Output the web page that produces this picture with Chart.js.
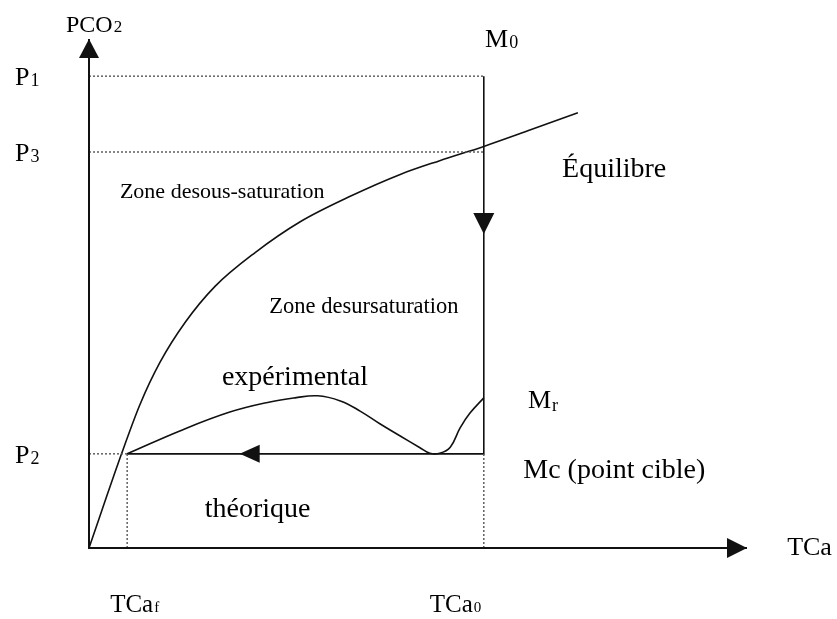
<!DOCTYPE html>
<html>
<head>
<meta charset="utf-8">
<script src="https://cdn.jsdelivr.net/npm/chart.js@4"></script>
<style>
  body { margin: 0; background: #fff; }
  #wrap { width: 837px; height: 619px; }
</style>
</head>
<body>
<div id="wrap"><canvas id="chart" width="837" height="619"></canvas></div>
<script>
// PCO2 levels on the vertical axis
const pNames = ['P', 'P', 'P'];
const pSubs = ['1', '3', '2'];
const pValues = [92.7, 77.8, 18.5];

// TCa values on the horizontal axis
const tcaNames = ['TCa', 'TCa'];
const tcaSubs = ['f', '0'];
const tcaValues = [5.8, 60];

// equilibrium curve
const eqX = [0, 5.0, 7.75, 10.8, 14.6, 19.15, 25.2, 32.1, 39.7, 47.3, 53.3, 60.0, 67.0, 74.3];
const eqY = [0, 18.7, 28.2, 36.5, 44.3, 51.4, 58.0, 64.1, 69.1, 73.4, 76.1, 78.9, 82.1, 85.5];

// experimental path between Mr and the target point
const expX = [5.8, 13.8, 21.4, 27.5, 31.3, 34.7, 38.2, 41.2, 44.2, 47.3, 50.3, 51.8, 53.3, 54.9, 56.4, 57.9, 60.0];
const expY = [18.5, 23.0, 26.7, 28.7, 29.5, 29.9, 28.9, 26.9, 24.4, 22.0, 19.7, 18.6, 18.6, 19.8, 23.6, 26.5, 29.5];

// arrow tips (data units)
const arrowX = [0, 100, 60, 22.9];
const arrowY = [100, 0, 61.7, 18.5];
const arrowDir = ['up', 'right', 'down', 'left'];

const [P1, P3, P2] = pValues;
const [TCaf, TCa0] = tcaValues;

const pts = (xs, ys) => xs.map((v, i) => ({ x: v, y: ys[i] }));

const solid = (data, extra) => Object.assign({
  data, borderColor: '#111', borderWidth: 1.6, pointRadius: 0,
  tension: 0, fill: false, clip: false
}, extra);
const dotted = data => solid(data, { borderColor: '#555', borderWidth: 1.4, borderDash: [2, 2] });

const datasets = [
  // axes
  solid([{ x: 0, y: 100 }, { x: 0, y: 0 }, { x: 100, y: 0 }], { borderWidth: 2 }),
  // guide lines
  dotted([{ x: 0, y: P1 }, { x: TCa0, y: P1 }]),
  dotted([{ x: 0, y: P3 }, { x: TCa0, y: P3 }]),
  dotted([{ x: 0, y: P2 }, { x: TCaf, y: P2 }]),
  dotted([{ x: TCaf, y: 0 }, { x: TCaf, y: P2 }]),
  dotted([{ x: TCa0, y: 0 }, { x: TCa0, y: P2 }]),
  // theoretical path M0 -> Mc -> TCaf
  solid([{ x: TCa0, y: P1 }, { x: TCa0, y: P2 }, { x: TCaf, y: P2 }]),
  // equilibrium and experimental curves
  solid(pts(eqX, eqY), { cubicInterpolationMode: 'monotone' }),
  solid(pts(expX, expY), { tension: 0.4 })
];

const serif = '"Liberation Serif", "Times New Roman", serif';

// free text placed in data units
const notes = [
  { x: -3.5, y: 101.4, text: 'PCO', sub: '2', size: 24, subSize: 17, subDy: 0 },
  { x: 60.2, y: 98.4, text: 'M', sub: '0', size: 26, subSize: 18, subDy: 1 },
  { x: 71.9, y: 72.9, text: 'Équilibre', size: 28 },
  { x: 4.7, y: 68.8, text: 'Zone desous-saturation', size: 22 },
  { x: 27.4, y: 46.2, text: 'Zone desursaturation', size: 22.5 },
  { x: 20.2, y: 32.0, text: 'expérimental', size: 28 },
  { x: 66.7, y: 27.5, text: 'M', sub: 'r', size: 26, subSize: 18, subDy: 3 },
  { x: 66.0, y: 13.75, text: 'Mc (point cible)', size: 28 },
  { x: 17.6, y: 6.1, text: 'théorique', size: 28 },
  { x: 106.1, y: -1.4, text: 'TCa', size: 26 }
];

const arrowSize = { up: [19, 10], right: [20, 10], down: [21, 10.5], left: [20, 9] };
const tcaDx = [-17, -54];

function drawText(ctx, px, py, t) {
  ctx.font = t.size + 'px ' + serif;
  ctx.fillText(t.text, px, py);
  if (t.sub) {
    const w = ctx.measureText(t.text).width;
    ctx.font = t.subSize + 'px ' + serif;
    ctx.fillText(t.sub, px + w + 1, py + t.subDy);
  }
}

const overlay = {
  id: 'overlay',
  afterDatasetsDraw(chart) {
    const { ctx, scales: { x, y } } = chart;
    ctx.save();
    ctx.fillStyle = '#111';

    arrowX.forEach((v, i) => {
      const tx = x.getPixelForValue(v), ty = y.getPixelForValue(arrowY[i]);
      const [len, half] = arrowSize[arrowDir[i]];
      ctx.beginPath();
      ctx.moveTo(tx, ty);
      if (arrowDir[i] === 'up') { ctx.lineTo(tx - half, ty + len); ctx.lineTo(tx + half, ty + len); }
      if (arrowDir[i] === 'down') { ctx.lineTo(tx - half, ty - len); ctx.lineTo(tx + half, ty - len); }
      if (arrowDir[i] === 'right') { ctx.lineTo(tx - len, ty - half); ctx.lineTo(tx - len, ty + half); }
      if (arrowDir[i] === 'left') { ctx.lineTo(tx + len, ty - half); ctx.lineTo(tx + len, ty + half); }
      ctx.closePath();
      ctx.fill();
    });

    ctx.fillStyle = '#000';
    ctx.textBaseline = 'alphabetic';
    ctx.textAlign = 'left';

    pValues.forEach((v, i) => {
      drawText(ctx, 15, y.getPixelForValue(v) + 9,
        { text: pNames[i], sub: pSubs[i], size: 26, subSize: 18, subDy: 1 });
    });
    tcaValues.forEach((v, i) => {
      drawText(ctx, x.getPixelForValue(v) + tcaDx[i], 612,
        { text: tcaNames[i], sub: tcaSubs[i], size: 25, subSize: 15, subDy: 0 });
    });
    notes.forEach(n => drawText(ctx, x.getPixelForValue(n.x), y.getPixelForValue(n.y), n));
    ctx.restore();
  }
};

new Chart(document.getElementById('chart'), {
  type: 'line',
  data: { datasets },
  options: {
    responsive: false,
    animation: false,
    layout: { padding: { left: 89, right: 90, top: 39, bottom: 71 } },
    plugins: { legend: { display: false }, tooltip: { enabled: false } },
    scales: {
      x: { type: 'linear', min: 0, max: 100, display: false },
      y: { type: 'linear', min: 0, max: 100, display: false }
    }
  },
  plugins: [overlay]
});
</script>
</body>
</html>
